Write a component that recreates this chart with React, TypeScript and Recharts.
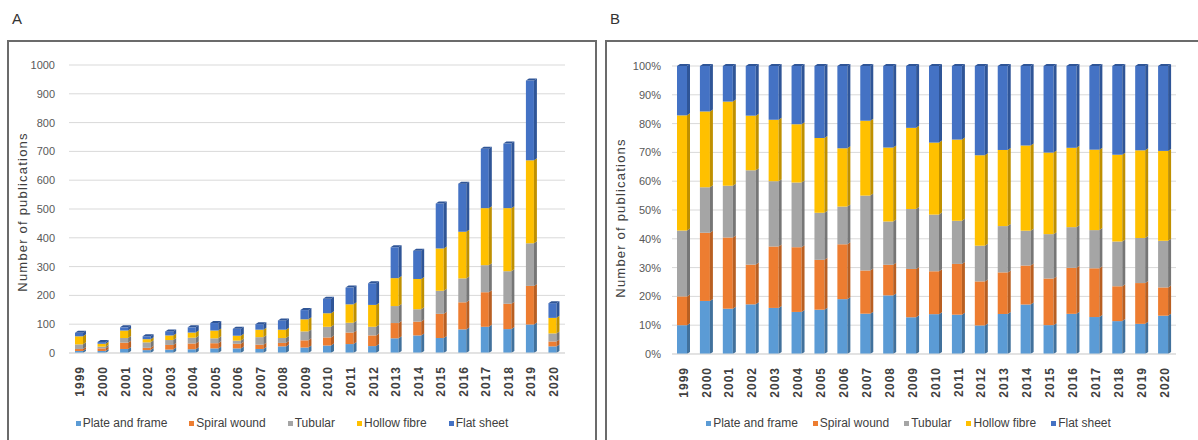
import { Bar, BarChart, CartesianGrid, Legend, XAxis, YAxis } from 'recharts';

const YEARS = [
  '1999', '2000', '2001', '2002', '2003', '2004', '2005', '2006', '2007', '2008', '2009',
  '2010', '2011', '2012', '2013', '2014', '2015', '2016', '2017', '2018', '2019', '2020',
];
const PLATE_AND_FRAME = [7, 7, 14, 10, 12, 13, 16, 16, 14, 23, 19, 26, 31, 24, 51, 61, 52, 82, 91, 83, 99, 23];
const SPIRAL_WOUND = [7, 9, 22, 8, 16, 20, 18, 16, 15, 12, 25, 28, 40, 37, 53, 48, 84, 94, 120, 88, 134, 17];
const TUBULAR = [16, 6, 16, 19, 17, 20, 17, 11, 26, 17, 31, 37, 34, 30, 59, 43, 80, 83, 94, 113, 148, 28];
const HOLLOW_FIBRE = [28, 10, 26, 11, 16, 18, 27, 17, 26, 29, 42, 47, 64, 76, 97, 105, 147, 162, 198, 219, 288, 54];
const FLAT_SHEET = [12, 6, 11, 10, 14, 18, 26, 24, 19, 32, 32, 50, 58, 75, 107, 98, 156, 167, 206, 224, 277, 51];

const COUNT_TICKS = [0, 100, 200, 300, 400, 500, 600, 700, 800, 900, 1000];
const SHARE_TICKS = [0, 0.1, 0.2, 0.3, 0.4, 0.5, 0.6, 0.7, 0.8, 0.9, 1];

const SERIES = [
  { key: 'plate', name: 'Plate and frame', values: PLATE_AND_FRAME, color: '#5b9bd5', side: '#41719c' },
  { key: 'spiral', name: 'Spiral wound', values: SPIRAL_WOUND, color: '#ed7d31', side: '#b85f22' },
  { key: 'tubular', name: 'Tubular', values: TUBULAR, color: '#a5a5a5', side: '#767676' },
  { key: 'hollow', name: 'Hollow fibre', values: HOLLOW_FIBRE, color: '#ffc000', side: '#bf9000' },
  { key: 'flat', name: 'Flat sheet', values: FLAT_SHEET, color: '#4472c4', side: '#2f5597' },
];

const rows = YEARS.map((year, i) => {
  const row: Record<string, string | number> = { year };
  SERIES.forEach((s) => {
    row[s.key] = s.values[i];
  });
  return row;
});

const FONT = "'Liberation Sans', Arial, sans-serif";
const TEXT_COLOR = '#404040';
const GRID_COLOR = '#d9d9d9';
const BORDER_COLOR = '#6b6b6b';

function Bar3D(props: any) {
  const { x, y, width, height, fill, side, cap } = props;
  if (!height || height <= 0) return null;
  const d = 3;
  const fw = width - d;
  return (
    <g>
      <rect x={x} y={y} width={fw} height={height} fill={fill} />
      <polygon
        points={`${x + fw},${y} ${x + width},${y - 2} ${x + width},${y + height - 2} ${x + fw},${y + height}`}
        fill={side}
      />
      {cap && (
        <polygon
          points={`${x},${y} ${x + d},${y - 2} ${x + width},${y - 2} ${x + fw},${y}`}
          fill={side}
        />
      )}
    </g>
  );
}

function YearTick({ x, y, payload }: any) {
  const ty = y + 5;
  return (
    <text
      x={x}
      y={ty}
      dy="0.35em"
      transform={`rotate(-90 ${x} ${ty})`}
      textAnchor="end"
      fontFamily={FONT}
      fontSize={12}
      fontWeight="bold"
      letterSpacing={1}
      fill={TEXT_COLOR}
    >
      {payload.value}
    </text>
  );
}

function LegendRow({ gap, shift }: { gap: number; shift: number }) {
  return (
    <div
      style={{
        height: 16,
        display: 'flex',
        justifyContent: 'center',
        alignItems: 'center',
        gap,
        paddingLeft: shift,
        fontFamily: FONT,
        fontSize: 12,
        color: TEXT_COLOR,
      }}
    >
      {SERIES.map((s) => (
        <span key={s.key} style={{ display: 'flex', alignItems: 'center' }}>
          <span style={{ width: 5, height: 5, background: s.color, marginRight: 2 }} />
          {s.name}
        </span>
      ))}
    </div>
  );
}

function axisTitle(cx: number, cy: number) {
  return () => (
    <text
      x={cx}
      y={cy}
      transform={`rotate(-90 ${cx} ${cy})`}
      textAnchor="middle"
      dominantBaseline="central"
      fontFamily={FONT}
      fontSize={13}
      letterSpacing={1.2}
      fill={TEXT_COLOR}
    >
      Number of publications
    </text>
  );
}

function renderSeries(barSize: number) {
  return SERIES.map((s) => (
    <Bar
      key={s.key}
      dataKey={s.key}
      name={s.name}
      stackId="a"
      fill={s.color}
      barSize={barSize}
      isAnimationActive={false}
      shape={(p: any) => <Bar3D {...p} side={s.side} cap={s.key === 'flat'} />}
    />
  ));
}

const panelLabel = (left: number): React.CSSProperties => ({
  position: 'absolute',
  left,
  top: 10,
  fontFamily: FONT,
  fontSize: 15,
  color: '#333',
});

const panelBox = (left: number, width: number): React.CSSProperties => ({
  position: 'absolute',
  left,
  top: 40,
  width,
  height: 420,
  border: `2px solid ${BORDER_COLOR}`,
  boxSizing: 'border-box',
});

export default function App() {
  return (
    <div style={{ position: 'absolute', left: 0, top: 0, width: 1198, height: 440, background: '#fff', overflow: 'hidden' }}>
      <div style={panelLabel(12)}>A</div>
      <div style={panelLabel(610)}>B</div>
      <div style={panelBox(7, 590)} />
      <div style={panelBox(605, 610)} />

      <div style={{ position: 'absolute', left: 0, top: 0 }}>
        <BarChart width={600} height={440} data={rows} margin={{ top: 65, right: 35, left: 19, bottom: 9 }}>
          <CartesianGrid vertical={false} stroke={GRID_COLOR} />
          <XAxis dataKey="year" height={62} interval={0} tick={<YearTick />} tickLine={false} stroke={GRID_COLOR} />
          <YAxis
            width={50}
            domain={[0, 1000]}
            ticks={COUNT_TICKS}
            axisLine={false}
            tickLine={false}
            tickMargin={8}
            tick={{ fontFamily: FONT, fontSize: 11, fill: '#595959' }}
            label={{ content: axisTitle(22, 212) }}
          />
          <Legend verticalAlign="bottom" content={<LegendRow gap={22} shift={0} />} />
          {renderSeries(11)}
        </BarChart>
      </div>

      <div style={{ position: 'absolute', left: 600, top: 0 }}>
        <BarChart
          width={598}
          height={440}
          data={rows}
          stackOffset="expand"
          margin={{ top: 66, right: 22, left: 27, bottom: 9 }}
        >
          <CartesianGrid vertical={false} stroke={GRID_COLOR} />
          <XAxis dataKey="year" height={61} interval={0} tick={<YearTick />} tickLine={false} stroke={GRID_COLOR} />
          <YAxis
            width={45}
            domain={[0, 1]}
            ticks={SHARE_TICKS}
            axisLine={false}
            tickLine={false}
            tickMargin={5}
            tickFormatter={(v: number) => `${Math.round(v * 100)}%`}
            tick={{ fontFamily: FONT, fontSize: 11, fill: '#595959' }}
            label={{ content: axisTitle(20, 218) }}
          />
          <Legend verticalAlign="bottom" content={<LegendRow gap={15} shift={14} />} />
          {renderSeries(13)}
        </BarChart>
      </div>
    </div>
  );
}
